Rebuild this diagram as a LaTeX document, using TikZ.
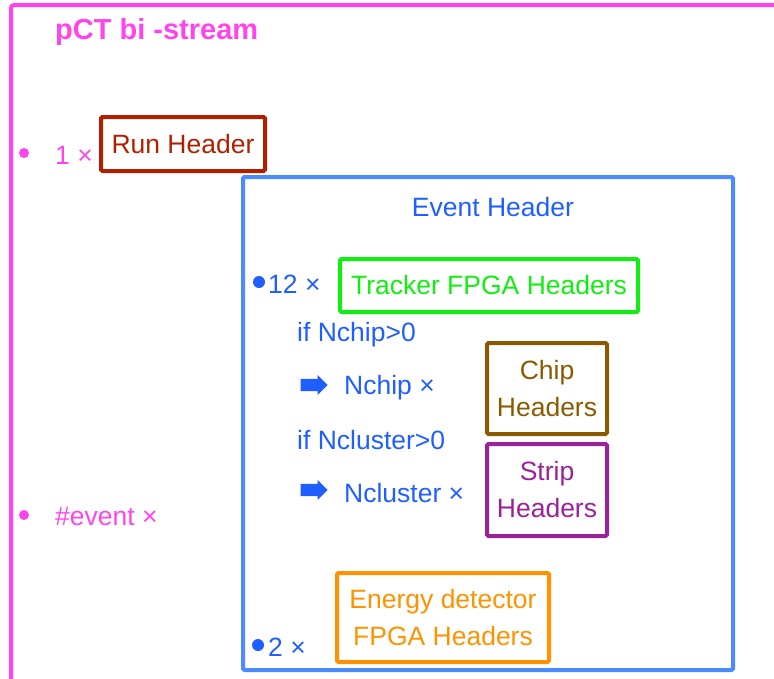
\documentclass[tikz,border=0pt]{standalone}
\usepackage{fontspec}
\setmainfont{Liberation Sans}
\usepackage{tikz}
\usetikzlibrary{shapes.arrows,positioning}

\definecolor{streampink}{HTML}{FF44EE}
\definecolor{runred}{HTML}{B02000}
\definecolor{evtblue}{HTML}{4A8CFF}
\definecolor{txtblue}{HTML}{1F5EFF}
\definecolor{trkgreen}{HTML}{11EE11}
\definecolor{chipbrown}{HTML}{8A5A00}
\definecolor{strippurple}{HTML}{992299}
\definecolor{edorange}{HTML}{FF9200}

\newcommand{\hdrdot}[3]{%
	\fill[#2] (#1) circle[radius=#3pt];
}
\newcommand{\fatarrow}[2]{%
	\node[single arrow, fill=txtblue, inner sep=4.5pt, minimum height=27pt, minimum width=20pt,
	      single arrow head extend=3pt, single arrow head indent=0pt] (#1) at (#2) {};
}

\tikzset{
	hdrbox/.style={draw, line width=4, rounded corners=1.5, inner sep=0pt, align=center,
	               font=\fontsize{26.5}{37}\selectfont},
	lbl/.style={anchor=west, inner sep=0pt, font=\fontsize{26.5}{32}\selectfont},
}

\begin{document}
\begin{tikzpicture}[x=1pt,y=-1pt]
		\useasboundingbox (0,0) rectangle (774,678);
		% bit-stream frame
		\draw[streampink, line width=4, rounded corners=3] (11,680) -- (11,5) -- (776,5);
		\node[anchor=west, inner sep=0pt, streampink, font=\fontsize{29}{32}\selectfont\bfseries] (title) at (55,32) {pCT bi -stream};
		% run header
		\hdrdot{24,153}{streampink}{5}
		\node[lbl, streampink] (nrun) at (55,155) {1 ×};
		\node[hdrbox, runred, minimum width=164, minimum height=54] (run) at (183,144) {Run Header};
		% event header
		\hdrdot{24,515}{streampink}{5}
		\node[lbl, streampink] (nevt) at (55,517) {\#event ×};
		\draw[evtblue, line width=4, rounded corners=1.5] (243,177) rectangle (733,670);
		\node[inner sep=0pt, txtblue, font=\fontsize{26.5}{32}\selectfont] (evt) at (493,207) {Event Header};
		% tracker
		\hdrdot{259,282}{txtblue}{6}
		\node[lbl, txtblue] (ntrk) at (268,284) {12 ×};
		\node[hdrbox, trkgreen, minimum width=298, minimum height=53] (trk) at (489,285.5) {Tracker FPGA Headers};
		\node[lbl, txtblue] (ifchip) at (297,335) {if Nchip>0};
		\fatarrow{achip}{311,385}
		\node[lbl, txtblue] (nchip) at (344,388) {Nchip ×};
		\node[hdrbox, chipbrown, minimum width=120, minimum height=91] (chip) at (547,388.5) {Chip\\Headers};
		\node[lbl, txtblue] (ifclu) at (297,440) {if Ncluster>0};
		\fatarrow{aclu}{311,490}
		\node[lbl, txtblue] (nclu) at (344,493) {Ncluster ×};
		\node[hdrbox, strippurple, minimum width=120, minimum height=92] (strip) at (547,490) {Strip\\Headers};
		% energy detector
		\hdrdot{258,645}{txtblue}{6}
		\node[lbl, txtblue] (ned) at (268,647) {2 ×};
		\node[hdrbox, edorange, minimum width=212, minimum height=89] (ed) at (443,617.5) {Energy detector\\FPGA Headers};
	\end{tikzpicture}
\end{document}
